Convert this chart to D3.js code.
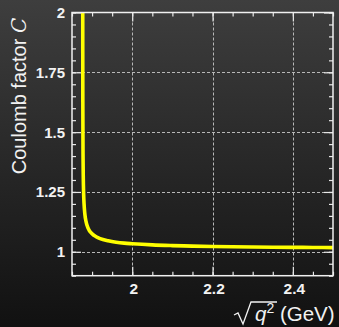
<!DOCTYPE html>
<html><head><meta charset="utf-8">
<script src="https://cdn.jsdelivr.net/npm/d3@7"></script>
<style>html,body{margin:0;padding:0;background:#222;}svg{display:block;}</style>
</head><body>
<svg id="c" width="339" height="327"></svg>
<script>
// data
const sqrtQ2 = [1.8766, 1.8768, 1.877, 1.8775, 1.878, 1.879, 1.880, 1.882, 1.885, 1.89, 1.90, 1.91, 1.92, 1.94, 1.96, 1.98, 2.0, 2.05, 2.1, 2.15, 2.2, 2.25, 2.3, 2.35, 2.4, 2.45, 2.5];
const coulomb = [3.04, 1.842, 1.606, 1.401, 1.319, 1.241, 1.201, 1.158, 1.126, 1.099, 1.075, 1.063, 1.055, 1.046, 1.040, 1.036, 1.0335, 1.0287, 1.0258, 1.0237, 1.0221, 1.0209, 1.0200, 1.0192, 1.0185, 1.0179, 1.0174];
const xTicks = [2, 2.2, 2.4];
const xTickLabels = ["2", "2.2", "2.4"];
const yTicks = [1, 1.25, 1.5, 1.75, 2];
const yTickLabels = ["1", "1.25", "1.5", "1.75", "2"];

const svg = d3.select("#c");
const W = 339, H = 327;
const L = 72, R = 333, T = 12.5, B = 275.7;
const defs = svg.append("defs");
const g = defs.append("linearGradient").attr("id","bg").attr("x1",0).attr("y1",0).attr("x2",0).attr("y2",1);
g.append("stop").attr("offset","0%").attr("stop-color","#3e3e3e");
g.append("stop").attr("offset","100%").attr("stop-color","#111111");
defs.append("clipPath").attr("id","clip").append("rect").attr("x",L).attr("y",T).attr("width",R-L).attr("height",B-T);
svg.append("rect").attr("width",W).attr("height",H).attr("fill","url(#bg)");

const x = d3.scaleLinear().domain([1.85, 2.5]).range([L, R]);
const y = d3.scaleLinear().domain([0.9, 2]).range([B, T]);

// grid
const grid = svg.append("g").attr("stroke","#b8b8b8").attr("stroke-width",1).attr("stroke-dasharray","3,2");
grid.selectAll(".gx").data(xTicks).join("line").attr("x1",d=>Math.round(x(d))+0.5).attr("x2",d=>Math.round(x(d))+0.5).attr("y1",T).attr("y2",B);
grid.selectAll(".gy").data(yTicks.filter(d=>d<2)).join("line").attr("y1",d=>Math.round(y(d))+0.5).attr("y2",d=>Math.round(y(d))+0.5).attr("x1",L).attr("x2",R);

// curve
const line = d3.line().x((d,i)=>x(sqrtQ2[i])).y(d=>y(d)).curve(d3.curveMonotoneX);
svg.append("path").attr("clip-path","url(#clip)").datum(coulomb).attr("d",line)
  .attr("fill","none").attr("stroke","#ffff00").attr("stroke-width",3.6).attr("stroke-linejoin","round");

// axes (inward ticks on all four sides)
function styleAxis(sel){
  sel.select(".domain").remove();
  sel.selectAll("line").attr("stroke","#e8e8e8").attr("stroke-width",1.2);
  sel.selectAll("text").remove();
}
const xMinor = d3.range(1.85, 2.5001, 0.05);
const yMinor = d3.range(0.9, 2.0001, 0.05);
svg.append("g").attr("transform",`translate(0,${B})`).call(d3.axisBottom(x).tickValues(xMinor).tickSize(-4)).call(styleAxis);
svg.append("g").attr("transform",`translate(0,${B})`).call(d3.axisBottom(x).tickValues(xTicks).tickSize(-9)).call(styleAxis);
svg.append("g").attr("transform",`translate(0,${T})`).call(d3.axisTop(x).tickValues(xMinor).tickSize(-4)).call(styleAxis);
svg.append("g").attr("transform",`translate(0,${T})`).call(d3.axisTop(x).tickValues(xTicks).tickSize(-9)).call(styleAxis);
svg.append("g").attr("transform",`translate(${L},0)`).call(d3.axisLeft(y).tickValues(yMinor).tickSize(-4)).call(styleAxis);
svg.append("g").attr("transform",`translate(${L},0)`).call(d3.axisLeft(y).tickValues(yTicks).tickSize(-9)).call(styleAxis);
svg.append("g").attr("transform",`translate(${R},0)`).call(d3.axisRight(y).tickValues(yMinor).tickSize(-4)).call(styleAxis);
svg.append("g").attr("transform",`translate(${R},0)`).call(d3.axisRight(y).tickValues(yTicks).tickSize(-9)).call(styleAxis);

// frame
svg.append("rect").attr("x",L).attr("y",T).attr("width",R-L).attr("height",B-T)
  .attr("fill","none").attr("stroke","#f0f0f0").attr("stroke-width",1.5);

// tick labels
const font = "'Liberation Sans', Arial, sans-serif";
svg.append("g").selectAll("text").data(yTicks).join("text")
  .attr("x",L-7).attr("y",d=>y(d)).attr("dy","0.36em").attr("text-anchor","end")
  .attr("font-family",font).attr("font-weight","bold").attr("font-size",15).attr("fill","#f2f2f2")
  .text((d,i)=>yTickLabels[i]);
svg.append("g").selectAll("text").data(xTicks).join("text")
  .attr("x",d=>x(d)+1.5).attr("y",293.5).attr("text-anchor","middle")
  .attr("font-family",font).attr("font-weight","bold").attr("font-size",15.5).attr("fill","#f2f2f2")
  .text((d,i)=>xTickLabels[i]);

// y label
const yl = svg.append("text").attr("transform","translate(26,96) rotate(-90)").attr("text-anchor","middle")
  .attr("font-family",font).attr("font-size",20).attr("fill","#f2f2f2");
yl.append("tspan").text("Coulomb factor ");
yl.append("tspan").attr("font-style","italic").attr("font-family","'DejaVu Serif', serif").text("C");

// x label
svg.append("path").attr("d","M234,315 L238,313 L243,324 L251,302 L277,302")
  .attr("fill","none").attr("stroke","#f2f2f2").attr("stroke-width",1.3);
const xl = svg.append("text").attr("x",255).attr("y",321).attr("font-family",font).attr("font-size",20.5).attr("fill","#f2f2f2");
xl.append("tspan").attr("font-style","italic").text("q");
xl.append("tspan").attr("dy",-8).attr("font-size",14).text("2");
xl.append("tspan").attr("dy",8).text(" (GeV)");
</script>
</body></html>
